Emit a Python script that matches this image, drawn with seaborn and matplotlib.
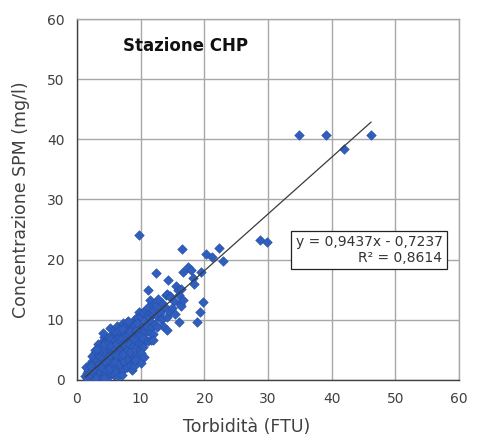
import numpy as np
import pandas as pd
import matplotlib
matplotlib.use("Agg")
import matplotlib.pyplot as plt
import seaborn as sns

# Turbidity (FTU) and SPM concentration (mg/l) samples, station CHP
torbidita = [
    1.3, 1.5, 1.6, 1.8, 1.9, 2.0, 1.7, 2.1, 1.4,
    2.2, 2.3, 2.4, 2.5, 2.6, 2.7, 2.8, 2.9, 2.4, 2.6, 3.0, 2.2, 2.8,
    3.1, 3.2, 3.3, 3.4, 3.5, 3.6, 3.7, 3.8, 3.9, 3.3, 3.5, 3.9, 3.6, 3.2, 3.0,
    4.0, 4.1, 4.2, 4.3, 4.4, 4.5, 4.6, 4.7, 4.8, 4.9, 4.1, 4.4, 4.6, 4.2, 4.8, 4.9, 4.3,
    5.0, 5.1, 5.2, 5.3, 5.4, 5.5, 5.6, 5.7, 5.8, 5.9, 5.0, 5.2, 5.4, 5.6, 5.8, 5.3, 5.9, 5.1, 5.7,
    6.0, 6.1, 6.2, 6.3, 6.4, 6.5, 6.6, 6.7, 6.8, 6.9, 6.0, 6.2, 6.4, 6.6, 6.8, 6.3, 6.9, 6.1, 6.7, 6.5,
    7.0, 7.1, 7.2, 7.3, 7.4, 7.5, 7.6, 7.7, 7.8, 7.9, 7.0, 7.2, 7.4, 7.6, 7.8, 7.3, 7.9, 7.5, 7.1,
    8.0, 8.1, 8.2, 8.3, 8.4, 8.5, 8.6, 8.7, 8.8, 8.9, 8.0, 8.2, 8.4, 8.6, 8.8, 8.3, 8.9,
    9.0, 9.1, 9.2, 9.3, 9.4, 9.5, 9.6, 9.7, 9.8, 9.9, 9.0, 9.2, 9.4, 9.6, 9.1, 9.8, 9.5,
    10.0, 10.1, 10.1, 10.2, 10.3, 10.4, 10.5, 10.6, 10.7, 10.8, 10.9, 10.3, 10.0, 10.6, 10.9, 10.4,
    11.0, 11.2, 11.2, 11.3, 11.5, 11.5, 11.7, 11.7, 11.6, 11.9, 11.5, 11.1, 11.8, 12.0, 12.0, 12.0,
    12.4, 12.4, 12.6, 13.0, 13.0, 13.2, 13.3, 13.4, 13.8, 12.2, 12.8, 13.5, 12.0, 12.5,
    14.0, 14.1, 14.1, 14.1, 14.3, 14.6, 14.6, 14.6, 15.2, 15.6, 15.9, 15.0, 15.4,
    16.1, 16.1, 16.2, 16.4, 16.4, 16.5, 16.6, 16.7, 17.5, 17.9, 18.2, 18.4, 18.8, 19.3, 19.4, 19.8,
    20.3, 21.2, 22.3, 23.0, 28.7, 29.8, 34.9, 39.1, 41.9, 46.2, 9.7,
]
spm = [
    0.6, 1.2, 0.3, 1.8, 0.9, 2.6, 1.5, 0.4, 2.2,
    1.3, 3.1, 0.7, 2.0, 3.8, 1.1, 2.7, 4.5, 4.0, 0.2, 1.6, 2.4, 5.0,
    3.3, 0.8, 2.2, 4.2, 5.5, 1.4, 3.0, 6.2, 0.4, 6.0, 2.6, 4.8, 3.8, 5.2, 0.3,
    2.0, 3.6, 5.3, 7.2, 1.0, 4.4, 6.5, 2.7, 0.5, 5.8, 7.8, 3.1, 1.7, 0.3, 4.0, 7.0, 6.0,
    3.3, 6.3, 8.6, 1.2, 4.9, 2.3, 7.5, 5.6, 0.9, 3.9, 7.2, 4.2, 6.8, 2.9, 8.3, 5.7, 6.6, 1.8, 4.5,
    5.1, 7.9, 2.0, 9.0, 3.5, 6.1, 1.1, 4.7, 7.3, 8.7, 3.0, 5.9, 7.0, 8.3, 2.6, 4.2, 5.5, 1.4, 6.6, 0.7,
    3.8, 6.9, 9.4, 1.7, 5.4, 8.1, 2.8, 7.4, 4.6, 9.6, 0.9, 6.0, 3.2, 8.8, 6.3, 4.4, 2.2, 5.8, 8.4,
    5.0, 7.7, 3.4, 9.2, 2.5, 6.4, 8.6, 4.1, 7.1, 10.0, 9.8, 6.0, 4.6, 1.6, 5.6, 8.2, 3.0,
    6.8, 9.1, 4.3, 3.6, 7.9, 5.5, 10.1, 6.2, 8.6, 5.0, 2.4, 8.3, 10.4, 7.3, 3.3, 11.3, 9.5,
    7.5, 10.6, 2.8, 5.9, 9.0, 5.5, 8.2, 11.0, 6.7, 9.7, 7.9, 11.3, 4.5, 3.8, 11.6, 7.0,
    9.0, 6.4, 14.9, 10.4, 11.3, 8.0, 12.3, 6.6, 9.6, 11.0, 13.3, 12.1, 8.8, 7.7, 12.5, 11.7,
    12.5, 17.7, 10.6, 11.5, 11.1, 10.1, 10.2, 12.8, 12.2, 9.3, 13.4, 9.0, 6.6, 8.8,
    14.1, 14.3, 10.5, 8.3, 16.6, 14.0, 13.8, 11.3, 13.2, 15.6, 15.0, 12.0, 11.0,
    14.1, 9.7, 12.6, 12.3, 15.2, 21.7, 18.0, 13.3, 18.8, 18.3, 16.9, 15.9, 9.7, 11.3, 17.9, 13.0,
    20.9, 20.5, 22.0, 19.8, 23.3, 22.9, 40.8, 40.8, 38.4, 40.7, 24.1,
]

# Linear trend reported for the station
pendenza = 0.9437
intercetta = -0.7237
r2 = 0.8614

x_ticks = [0, 10, 20, 30, 40, 50, 60]
y_ticks = [0, 10, 20, 30, 40, 50, 60]

df = pd.DataFrame({"Torbidità": torbidita, "SPM": spm})

sns.set_theme(style="whitegrid")
plt.rcParams["font.family"] = ["DejaVu Sans"]

fig = plt.figure(figsize=(4.83, 4.40), dpi=100)
ax = fig.add_axes([0.1594, 0.1364, 0.7909, 0.8204])
ax.set_facecolor("white")

sns.scatterplot(data=df, x="Torbidità", y="SPM", marker="D", s=24,
                color="#2F5EBE", edgecolor="#2850A8", linewidth=0.4,
                ax=ax, zorder=3, legend=False)

# Trend line over the sampled turbidity range
xs = np.array([min(torbidita), max(torbidita)])
line_df = pd.DataFrame({"x": xs, "y": pendenza * xs + intercetta})
sns.lineplot(data=line_df, x="x", y="y", color="#3a3a3a", linewidth=0.9,
             ax=ax, zorder=4)

ax.set_xlim(0, 60)
ax.set_ylim(0, 60)
ax.set_xticks(x_ticks)
ax.set_yticks(y_ticks)
ax.grid(True, color="#a8a8a8", linewidth=1.0)
ax.tick_params(axis="both", direction="out", length=5, width=1,
               color="#404040", labelsize=10, labelcolor="#404040", pad=4)

for side in ["top", "right"]:
    ax.spines[side].set_color("#a8a8a8")
    ax.spines[side].set_linewidth(1.0)
for side in ["left", "bottom"]:
    ax.spines[side].set_color("#404040")
    ax.spines[side].set_linewidth(1.0)

ax.set_xlabel("Torbidità (FTU)", fontsize=12.5, color="#404040")
ax.xaxis.set_label_coords(0.445, -0.105)
ax.set_ylabel("Concentrazione SPM (mg/l)", fontsize=12.5, color="#404040")
ax.yaxis.set_label_coords(-0.123, 0.5)

ax.text(7.2, 55.5, "Stazione CHP", fontsize=12, fontweight="bold",
        color="#111111", ha="left", va="center", zorder=5)

eq = (f"y = {pendenza:.4f}x - {abs(intercetta):.4f}".replace(".", ",")
      + "\n" + f"R² = {r2:.4f}".replace(".", ","))
ax.text(57.4, 21.6, eq, fontsize=10, color="#333333", ha="right", va="center",
        multialignment="right", linespacing=1.2, zorder=6,
        bbox=dict(boxstyle="square,pad=0.3", facecolor="white",
                  edgecolor="#222222", linewidth=0.9))

fig.savefig("out.png", dpi=100)
